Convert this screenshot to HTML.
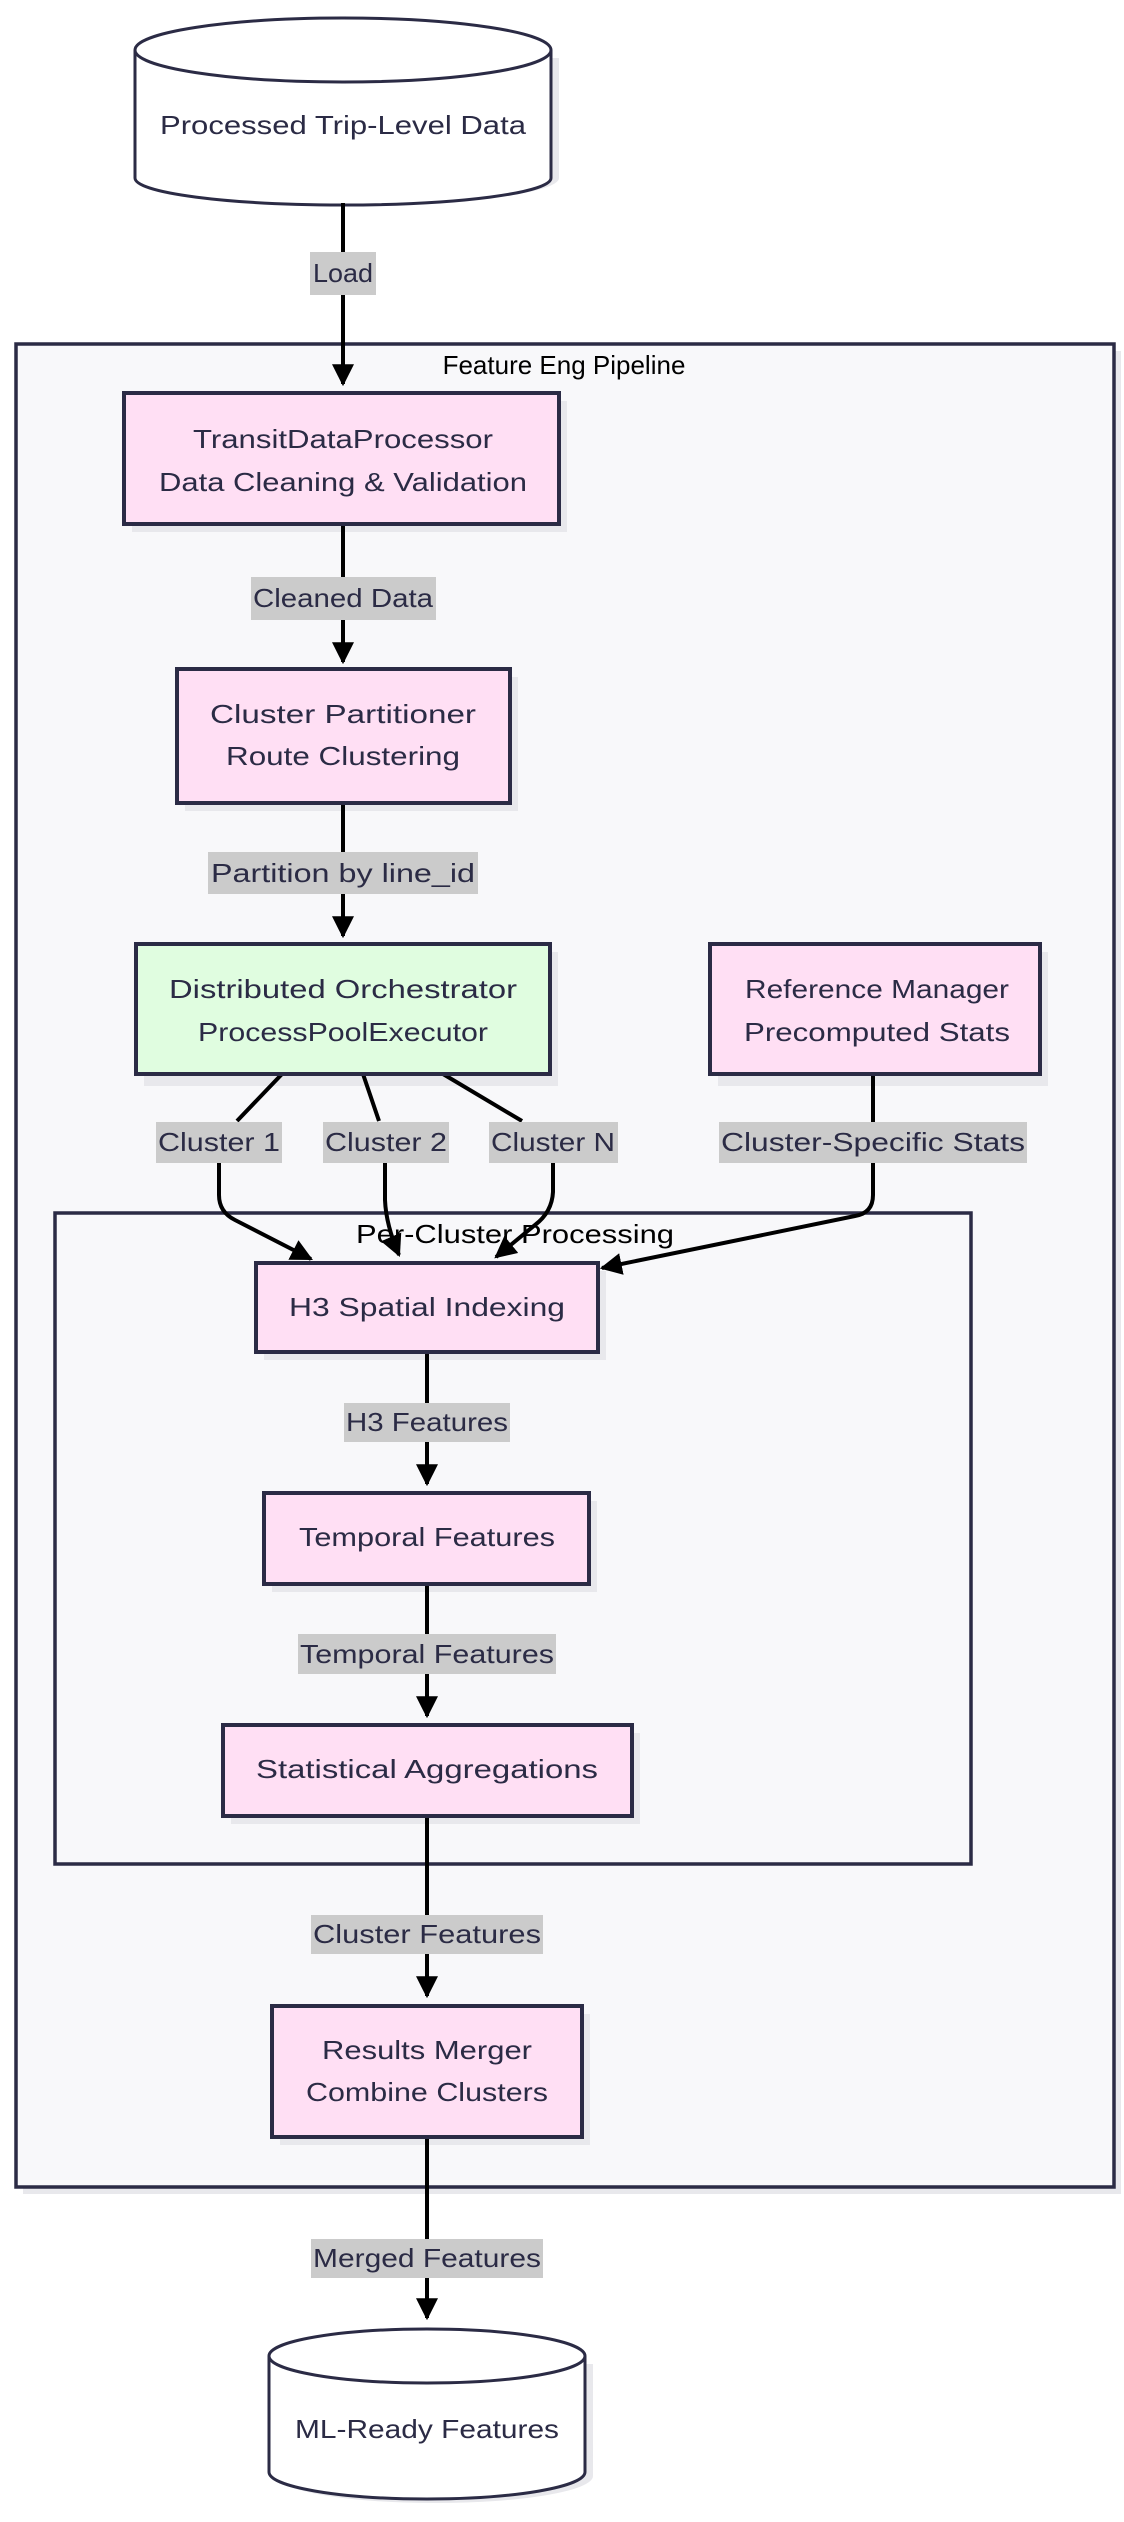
<!DOCTYPE html>
<html><head><meta charset="utf-8"><style>
html,body{margin:0;padding:0;background:#fff;}
svg{display:block;}
text{font-family:"Liberation Sans",sans-serif;}
</style></head><body>
<svg width="1124" height="2522" viewBox="0 0 1124 2522" xmlns="http://www.w3.org/2000/svg">
<defs>
<marker id="a" viewBox="0 0 10 10" refX="9" refY="5" markerWidth="22" markerHeight="22" markerUnits="userSpaceOnUse" orient="auto">
<path d="M0,0 L10,5 L0,10 z" fill="#000"/>
</marker>
</defs>
<g fill="#e8e8ec">
<rect x="23" y="351" width="1098" height="1843"/>
<rect x="62" y="1220" width="920" height="651"/>
</g>
<rect x="16" y="344" width="1098" height="1843" fill="#f8f8fa" stroke="#2b2b45" stroke-width="3.5"/>
<text x="564" y="374" font-size="26" text-anchor="middle" fill="#000">Feature Eng Pipeline</text>
<rect x="55" y="1213" width="916" height="651" fill="#f8f8fa" stroke="#2b2b45" stroke-width="3.5"/>

<!-- top cylinder -->
<path d="M143,58 v120 a208,27 0 0 0 416,0 v-120 z" fill="#e8e8ec"/>
<path d="M135,50 v128 a208,27 0 0 0 416,0 v-128 a208,32 0 0 0 -416,0 a208,32 0 0 0 416,0" fill="#fff" stroke="#2b2b45" stroke-width="3"/>
<text x="343" y="134" font-size="26" text-anchor="middle" fill="#2b2b45" textLength="366" lengthAdjust="spacingAndGlyphs">Processed Trip-Level Data</text>

<!-- bottom cylinder -->
<path d="M277,2364 v112 a158,27 0 0 0 316,0 v-112 z" fill="#e8e8ec"/>
<path d="M269,2356 v116 a158,27 0 0 0 316,0 v-116 a158,27 0 0 0 -316,0 a158,27 0 0 0 316,0" fill="#fff" stroke="#2b2b45" stroke-width="3"/>
<text x="427" y="2438" font-size="26" text-anchor="middle" fill="#2b2b45" textLength="264" lengthAdjust="spacingAndGlyphs">ML-Ready Features</text>

<!-- node shadows -->
<g fill="#e8e8ec">
<rect x="132" y="401" width="435" height="131"/>
<rect x="185" y="677" width="333" height="134"/>
<rect x="144" y="952" width="414" height="134"/>
<rect x="718" y="952" width="330" height="134"/>
<rect x="264" y="1271" width="342" height="89"/>
<rect x="272" y="1501" width="325" height="91"/>
<rect x="231" y="1733" width="409" height="91"/>
<rect x="280" y="2014" width="310" height="131"/>
</g>

<!-- edges -->
<g stroke="#000" stroke-width="4" fill="none">
<path d="M343,203 V384" marker-end="url(#a)"/>
<path d="M343,524 V662" marker-end="url(#a)"/>
<path d="M343,803 V936" marker-end="url(#a)"/>
<path d="M282,1074 L237,1121 M219,1163 V1195 Q219,1212 235,1220 L311,1259" marker-end="url(#a)"/>
<path d="M363,1074 L379,1121 M385,1163 V1200 Q386,1225 399,1255" marker-end="url(#a)"/>
<path d="M443,1074 L522,1121 M553,1163 V1192 Q552,1212 535,1225 L496,1257" marker-end="url(#a)"/>
<path d="M873,1074 V1195 Q873,1213 855,1216 L602,1268" marker-end="url(#a)"/>
<path d="M427,1352 V1484" marker-end="url(#a)"/>
<path d="M427,1584 V1716" marker-end="url(#a)"/>
<path d="M427,1816 V1996" marker-end="url(#a)"/>
<path d="M427,2137 V2318" marker-end="url(#a)"/>
</g>

<!-- labels -->
<g fill="#cbcbcb">
<rect x="310" y="252" width="66" height="43"/>
<rect x="251" y="577" width="185" height="43"/>
<rect x="208" y="852" width="270" height="42"/>
<rect x="156" y="1122" width="126" height="41"/>
<rect x="323" y="1122" width="126" height="41"/>
<rect x="489" y="1122" width="129" height="41"/>
<rect x="719" y="1122" width="308" height="41"/>
<rect x="344" y="1403" width="166" height="39"/>
<rect x="298" y="1634" width="258" height="40"/>
<rect x="311" y="1915" width="232" height="39"/>
<rect x="311" y="2239" width="232" height="39"/>
</g>
<g font-size="26" fill="#2b2b45" text-anchor="middle">
<text x="343" y="282" textLength="60" lengthAdjust="spacingAndGlyphs">Load</text>
<text x="343" y="607" textLength="180" lengthAdjust="spacingAndGlyphs">Cleaned Data</text>
<text x="343" y="882" textLength="264" lengthAdjust="spacingAndGlyphs">Partition by line_id</text>
<text x="219" y="1151" textLength="122" lengthAdjust="spacingAndGlyphs">Cluster 1</text>
<text x="386" y="1151" textLength="122" lengthAdjust="spacingAndGlyphs">Cluster 2</text>
<text x="553" y="1151" textLength="124" lengthAdjust="spacingAndGlyphs">Cluster N</text>
<text x="873" y="1151" textLength="304" lengthAdjust="spacingAndGlyphs">Cluster-Specific Stats</text>
<text x="427" y="1431" textLength="162" lengthAdjust="spacingAndGlyphs">H3 Features</text>
<text x="427" y="1663" textLength="254" lengthAdjust="spacingAndGlyphs">Temporal Features</text>
<text x="427" y="1943" textLength="228" lengthAdjust="spacingAndGlyphs">Cluster Features</text>
<text x="427" y="2267" textLength="228" lengthAdjust="spacingAndGlyphs">Merged Features</text>
</g>

<text x="515" y="1243" font-size="26" text-anchor="middle" fill="#000" textLength="318" lengthAdjust="spacingAndGlyphs">Per-Cluster Processing</text>

<!-- nodes -->
<g stroke="#2b2b45" stroke-width="4">
<rect x="124" y="393" width="435" height="131" fill="#ffdff4"/>
<rect x="177" y="669" width="333" height="134" fill="#ffdff4"/>
<rect x="136" y="944" width="414" height="130" fill="#e0fde0"/>
<rect x="710" y="944" width="330" height="130" fill="#ffdff4"/>
<rect x="256" y="1263" width="342" height="89" fill="#ffdff4"/>
<rect x="264" y="1493" width="325" height="91" fill="#ffdff4"/>
<rect x="223" y="1725" width="409" height="91" fill="#ffdff4"/>
<rect x="272" y="2006" width="310" height="131" fill="#ffdff4"/>
</g>
<g font-size="26" fill="#2b2b45" text-anchor="middle">
<text x="343" y="448" textLength="300" lengthAdjust="spacingAndGlyphs">TransitDataProcessor</text>
<text x="343" y="491" textLength="368" lengthAdjust="spacingAndGlyphs">Data Cleaning &amp; Validation</text>
<text x="343" y="723" textLength="266" lengthAdjust="spacingAndGlyphs">Cluster Partitioner</text>
<text x="343" y="765" textLength="234" lengthAdjust="spacingAndGlyphs">Route Clustering</text>
<text x="343" y="998" textLength="348" lengthAdjust="spacingAndGlyphs">Distributed Orchestrator</text>
<text x="343" y="1041" textLength="290" lengthAdjust="spacingAndGlyphs">ProcessPoolExecutor</text>
<text x="877" y="998" textLength="264" lengthAdjust="spacingAndGlyphs">Reference Manager</text>
<text x="877" y="1041" textLength="266" lengthAdjust="spacingAndGlyphs">Precomputed Stats</text>
<text x="427" y="1316" textLength="276" lengthAdjust="spacingAndGlyphs">H3 Spatial Indexing</text>
<text x="427" y="1546" textLength="256" lengthAdjust="spacingAndGlyphs">Temporal Features</text>
<text x="427" y="1778" textLength="342" lengthAdjust="spacingAndGlyphs">Statistical Aggregations</text>
<text x="427" y="2059" textLength="210" lengthAdjust="spacingAndGlyphs">Results Merger</text>
<text x="427" y="2101" textLength="242" lengthAdjust="spacingAndGlyphs">Combine Clusters</text>
</g>
</svg>
</body></html>
